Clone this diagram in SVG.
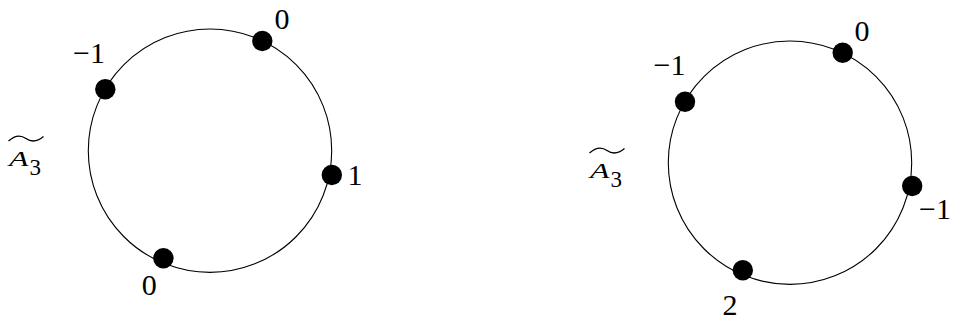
<svg xmlns="http://www.w3.org/2000/svg" width="958" height="323" viewBox="0 0 958 323">
<style>
.ring{fill:none;stroke:#000;stroke-width:1.1}
.dot{fill:#000}
.tl{fill:none;stroke:#000;stroke-width:1.3}
.lbl{font-family:"Liberation Serif",serif;font-size:30px;fill:#000;text-anchor:middle}
.nm{font-family:"Liberation Serif",serif;font-size:22px;font-style:italic;fill:#000}
.sub{font-family:"Liberation Serif",serif;font-size:23px;fill:#000}
</style>
<rect width="958" height="323" fill="#fff"/>
<g id="connectors">
<circle class="ring" cx="210" cy="150.7" r="121.7"/>
<circle class="ring" cx="790" cy="162.7" r="121.7"/>
</g>
<g id="title-left">
<path class="tl" d="M8.5,141 C15,135 21,135 26,138.5 C31,142 37,142 43.5,136.5"/>
<text class="nm" x="9" y="166.3" textLength="19.5" lengthAdjust="spacingAndGlyphs">A</text>
<text class="sub" x="29.5" y="174.5">3</text>
</g>
<g id="L-n1"><circle class="dot" cx="262.3" cy="41" r="10.2"/><text class="lbl" x="282" y="29">0</text></g>
<g id="L-n2"><circle class="dot" cx="105.3" cy="89.3" r="10.2"/><text class="lbl" x="89" y="63">−1</text></g>
<g id="L-n3"><circle class="dot" cx="331.8" cy="175" r="10.2"/><text class="lbl" x="355" y="185">1</text></g>
<g id="L-n4"><circle class="dot" cx="163.4" cy="258.2" r="10.2"/><text class="lbl" x="149.3" y="295">0</text></g>
<g id="title-right">
<path class="tl" d="M589.5,153 C596,147 602,147 607,150.5 C612,154 618,154 624.5,148.5"/>
<text class="nm" x="590" y="178.3" textLength="19.5" lengthAdjust="spacingAndGlyphs">A</text>
<text class="sub" x="610.5" y="186.5">3</text>
</g>
<g id="R-n1"><circle class="dot" cx="842.7" cy="52.7" r="10.2"/><text class="lbl" x="862" y="40.7">0</text></g>
<g id="R-n2"><circle class="dot" cx="685" cy="101.7" r="10.2"/><text class="lbl" x="669.5" y="75">−1</text></g>
<g id="R-n3"><circle class="dot" cx="912.2" cy="186" r="10.2"/><text class="lbl" x="935" y="219.3">−1</text></g>
<g id="R-n4"><circle class="dot" cx="742.8" cy="270.3" r="10.2"/><text class="lbl" x="730" y="315">2</text></g>
</svg>
